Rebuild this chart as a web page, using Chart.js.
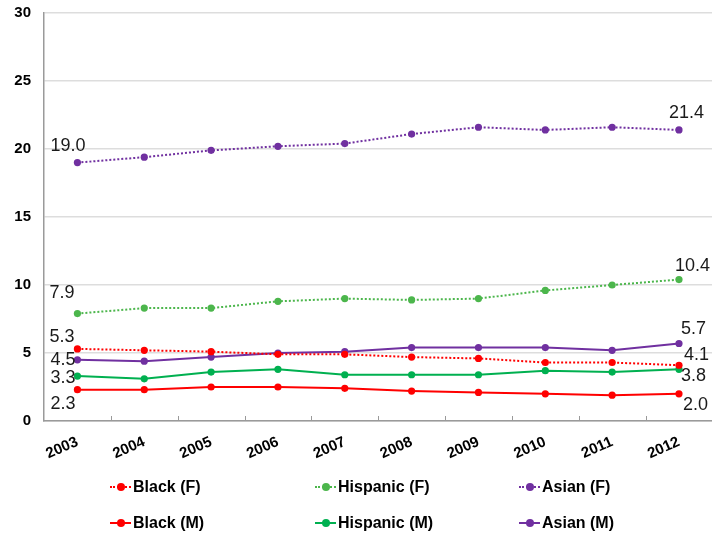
<!DOCTYPE html>
<html>
<head>
<meta charset="utf-8">
<script src="https://cdn.jsdelivr.net/npm/chart.js@4/dist/chart.umd.min.js"></script>
<style>
  html, body { margin: 0; padding: 0; background: #fff; overflow: hidden; width: 712px; height: 539px; }
  #wrap { position: relative; width: 716px; height: 539px; }
  canvas { position: absolute; left: 0; top: 0; }
  .leg { position: absolute; font: bold 16px "Liberation Sans", Arial, sans-serif; color: #000; height: 18px; line-height: 18px; white-space: nowrap; }
  .mk { position: absolute; left: 0; top: 8px; width: 21px; height: 0; }
  .mk.dot { border-top: 2px dotted; }
  .mk.sol { border-top: 2px solid; }
  .pt { position: absolute; left: 7px; top: 5px; width: 8px; height: 8px; border-radius: 50%; }
  .lt { position: absolute; left: 23px; top: 0; }
</style>
</head>
<body>
<div id="wrap">
  <canvas id="c" width="716" height="539"></canvas>
  <div id="legend"></div>
</div>
<script>
const years = ['2003','2004','2005','2006','2007','2008','2009','2010','2011','2012'];
const blackF    = [5.3, 5.2, 5.1, 4.9, 4.9, 4.7, 4.6, 4.3, 4.3, 4.1];
const hispanicF = [7.9, 8.3, 8.3, 8.8, 9.0, 8.9, 9.0, 9.6, 10.0, 10.4];
const asianF    = [19.0, 19.4, 19.9, 20.2, 20.4, 21.1, 21.6, 21.4, 21.6, 21.4];
const blackM    = [2.3, 2.3, 2.5, 2.5, 2.4, 2.2, 2.1, 2.0, 1.9, 2.0];
const hispanicM = [3.3, 3.1, 3.6, 3.8, 3.4, 3.4, 3.4, 3.7, 3.6, 3.8];
const asianM    = [4.5, 4.4, 4.7, 5.0, 5.1, 5.4, 5.4, 5.4, 5.2, 5.7];
const seriesNames = ['Black (F)', 'Hispanic (F)', 'Asian (F)', 'Black (M)', 'Hispanic (M)', 'Asian (M)'];
const yTicks = [0, 5, 10, 15, 20, 25, 30];

const RED = '#ff0000', GREEN_F = '#4cb64c', GREEN_M = '#00b050', PURPLE = '#7030a0';

function ds(label, data, color, dotted, lbl) {
  return {
    label, data,
    borderColor: color, backgroundColor: color,
    borderWidth: 2,
    borderDash: dotted ? [2, 2] : [],
    pointRadius: 3.6, pointHoverRadius: 3.6,
    pointBackgroundColor: color, pointBorderColor: color, pointBorderWidth: 0,
    tension: 0, fill: false,
    endLabels: lbl,
    dotted
  };
}

const datasets = [
  ds(seriesNames[0], blackF, RED, true,     { first: [-3, -12], last: [5, -10] }),
  ds(seriesNames[1], hispanicF, GREEN_F, true, { first: [-3, -21], last: [-4, -14] }),
  ds(seriesNames[2], asianF, PURPLE, true,  { first: [8, -17], last: [-10, -17] }),
  ds(seriesNames[3], blackM, RED, false,    { first: [-2, 14], last: [4, 11] }),
  ds(seriesNames[4], hispanicM, GREEN_M, false, { first: [-2, 2], last: [2, 7] }),
  ds(seriesNames[5], asianM, PURPLE, false, { first: [-2, 0], last: [2, -14] })
];

const endLabelPlugin = {
  id: 'endLabels',
  afterDatasetsDraw(chart) {
    const ctx = chart.ctx;
    ctx.save();
    ctx.font = '18px "Liberation Sans", Arial, sans-serif';
    ctx.fillStyle = '#1a1a1a';
    ctx.textBaseline = 'middle';
    chart.data.datasets.forEach((d, i) => {
      const meta = chart.getDatasetMeta(i);
      const pts = meta.data;
      const first = pts[0], last = pts[pts.length - 1];
      ctx.textAlign = 'right';
      ctx.fillText(d.data[0].toFixed(1), first.x + d.endLabels.first[0], first.y + d.endLabels.first[1]);
      ctx.textAlign = 'left';
      ctx.fillText(d.data[d.data.length - 1].toFixed(1), last.x + d.endLabels.last[0], last.y + d.endLabels.last[1]);
    });
    ctx.restore();
  }
};

const innerTicksPlugin = {
  id: 'innerTicks',
  afterDraw(chart) {
    const xs = chart.scales.x;
    const ctx = chart.ctx;
    const n = years.length;
    ctx.save();
    ctx.strokeStyle = '#9a9a9a';
    ctx.lineWidth = 1;
    for (let i = 1; i < n; i++) {
      const x = Math.round((xs.getPixelForValue(i - 1) + xs.getPixelForValue(i)) / 2) + 0.5;
      ctx.beginPath();
      ctx.moveTo(x, xs.top);
      ctx.lineTo(x, xs.top - 5);
      ctx.stroke();
    }
    ctx.restore();
  }
};

new Chart(document.getElementById('c'), {
  type: 'line',
  data: { labels: years, datasets },
  options: {
    responsive: false,
    animation: false,
    events: [],
    layout: { padding: { top: 13, right: 0, left: 0, bottom: 0 } },
    plugins: { legend: { display: false }, tooltip: { enabled: false } },
    scales: {
      x: {
        type: 'category',
        offset: true,
        grid: { display: false, drawTicks: false },
        border: { display: true, color: '#9a9a9a', width: 1.5 },
        ticks: {
          color: '#000',
          font: { family: '"Liberation Sans", Arial, sans-serif', size: 15, weight: 'bold' },
          minRotation: 24, maxRotation: 24,
          padding: 12,
          autoSkip: false
        },
        afterFit(scale) { scale.height = 118; }
      },
      y: {
        min: 0, max: 30,
        afterBuildTicks(scale) { scale.ticks = yTicks.map(v => ({ value: v })); },
        grid: { color: '#dddddd', lineWidth: 1.5, drawTicks: false },
        border: { display: true, color: '#9a9a9a', width: 1.5 },
        ticks: {
          color: '#000',
          font: { family: '"Liberation Sans", Arial, sans-serif', size: 15, weight: 'bold' },
          padding: 13
        },
        afterFit(scale) { scale.width = 44; scale.paddingTop = 6; scale.paddingBottom = 6; }
      }
    }
  },
  plugins: [endLabelPlugin, innerTicksPlugin]
});

// HTML legend (3 columns x 2 rows)
const legendCols = [110, 315, 519];
const legendRows = [478, 514];
const legend = document.getElementById('legend');
datasets.forEach((d, i) => {
  const col = i % 3, row = Math.floor(i / 3);
  const item = document.createElement('div');
  item.className = 'leg';
  item.style.left = legendCols[col] + 'px';
  item.style.top = legendRows[row] + 'px';
  item.innerHTML = '<div class="mk ' + (d.dotted ? 'dot' : 'sol') + '" style="border-color:' + d.borderColor + '"></div>' +
    '<div class="pt" style="background:' + d.borderColor + '"></div>' +
    '<span class="lt"></span>';
  item.querySelector('.lt').textContent = d.label;
  legend.appendChild(item);
});
</script>
</body>
</html>
